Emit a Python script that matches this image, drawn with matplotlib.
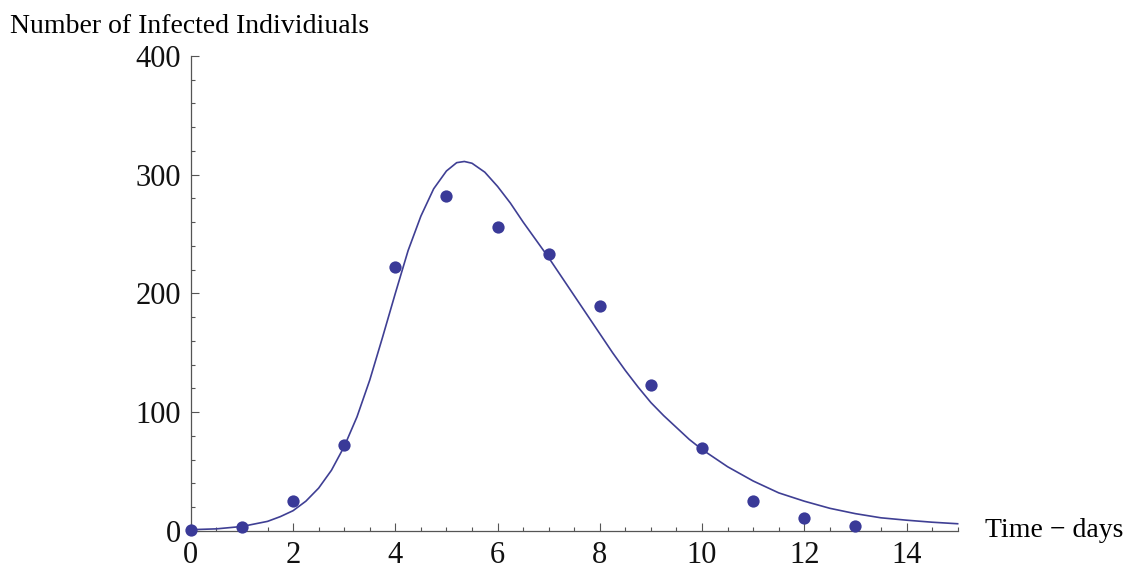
import matplotlib.pyplot as plt
from matplotlib.ticker import MultipleLocator

# observed cases per day
days = [0, 1, 2, 3, 4, 5, 6, 7, 8, 9, 10, 11, 12, 13]
infected = [1, 3, 25, 72, 222, 282, 256, 233, 189, 123, 70, 25, 11, 4]

# fitted model curve
fit_t = [0, 0.5, 1, 1.5, 1.75, 2, 2.25, 2.5, 2.75, 3, 3.25, 3.5, 3.75, 4, 4.25, 4.5,
         4.75, 5, 5.2, 5.35, 5.5, 5.75, 6, 6.25, 6.5, 6.75, 7, 7.25, 7.5, 7.75, 8,
         8.25, 8.5, 8.75, 9, 9.25, 9.5, 9.75, 10, 10.5, 11, 11.5, 12, 12.5, 13, 13.5,
         14, 14.5, 15]
fit_i = [1, 1.7, 3.7, 8, 12, 17, 25, 36, 51, 71, 96, 127, 163, 200, 236, 265,
         288, 303, 310, 311, 309.5, 302, 290, 276, 260, 245, 230, 214, 198, 182, 166,
         150, 135, 121, 108, 97, 87, 77, 68.5, 54, 42, 32, 25, 19, 14.5, 11,
         9, 7.3, 6]

plt.rcParams['font.family'] = ['Liberation Serif', 'DejaVu Serif']

fig = plt.figure(figsize=(11.36, 5.69), dpi=100)
ax = fig.add_axes([0.168, 0.067, 0.675, 0.835])

ax.plot(fit_t, fit_i, color='#3f3f94', lw=1.2, clip_on=False)
ax.scatter(days, infected, s=78, color='#3a3a98', zorder=3, clip_on=False, linewidths=0)

ax.set_xlim(0, 15)
ax.set_ylim(0, 400)

for s in ['top', 'right']:
    ax.spines[s].set_visible(False)
for s in ['left', 'bottom']:
    ax.spines[s].set_color('#555555')
    ax.spines[s].set_linewidth(0.9)

ax.xaxis.set_major_locator(MultipleLocator(2))
ax.xaxis.set_minor_locator(MultipleLocator(0.5))
ax.yaxis.set_major_locator(MultipleLocator(100))
ax.yaxis.set_minor_locator(MultipleLocator(20))
ax.tick_params(which='both', direction='in', color='#555555', width=0.8, labelsize=22, labelcolor='#111111')
ax.tick_params(which='major', length=6)
ax.tick_params(which='minor', length=3)
ax.tick_params(axis='x', which='major', pad=7)
ax.tick_params(axis='y', which='major', pad=7)

fig.text(0.009, 0.975, 'Number of Infected Individiuals', fontsize=20, va='top', ha='left')
fig.text(0.867, 0.067, 'Time \u2212 days', fontsize=20, va='center', ha='left')

fig.savefig('out.png', dpi=100)
